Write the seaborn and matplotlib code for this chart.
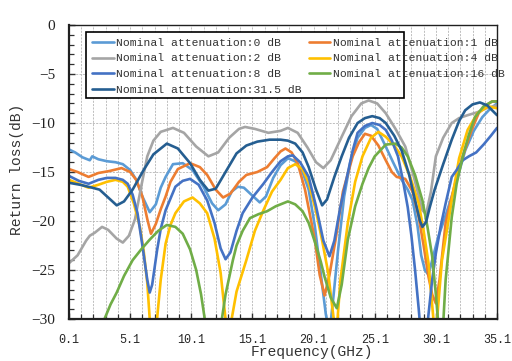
import matplotlib
matplotlib.use("Agg")
import matplotlib.pyplot as plt
import seaborn as sns
import pandas as pd
import numpy as np
from matplotlib.patches import Rectangle

# values (frequency in GHz, return loss in dB)
f_0db = [0.1, 0.6, 1.2, 1.8, 2.0, 2.5, 3.2, 3.9, 4.5, 5.1, 5.6, 6.1, 6.7, 7.2, 7.6, 8.0, 8.6, 9.4,
         10.2, 11.1, 11.8, 12.3, 12.9, 13.4, 13.9, 14.4, 15.0, 15.7, 16.2, 16.8, 17.4, 18.0, 18.6,
         19.2, 19.7, 20.2, 20.7, 21.1, 21.4, 21.7, 22.1, 22.6, 23.1, 23.7, 24.3, 24.8, 25.3, 26.0,
         26.6, 27.3, 27.8, 28.2, 28.6, 28.9, 29.2, 29.5, 29.8, 30.3, 30.8, 31.4, 32.0, 32.5, 33.2,
         33.9, 34.5, 35.1]
rl_0db = [-12.7, -13.0, -13.5, -13.8, -13.4, -13.7, -13.9, -14.0, -14.2, -14.8, -15.8, -17.5, -19.1,
          -18.3, -16.6, -15.5, -14.2, -14.1, -14.8, -16.5, -18.2, -18.9, -18.3, -17.0, -16.5, -16.6,
          -17.3, -18.1, -17.5, -15.6, -14.3, -13.6, -13.9, -15.0, -16.8, -20.5, -25.5, -29.5, -31.5,
          -28.0, -23.0, -17.5, -14.0, -11.5, -10.5, -10.2, -10.6, -12.4, -14.0, -15.8, -16.8, -17.9,
          -20.5, -23.5, -25.0, -25.5, -24.0, -21.6, -19.8, -17.5, -15.0, -12.8, -10.8, -9.4, -8.6, -8.0]

f_1db = [0.1, 0.8, 1.7, 2.5, 3.4, 4.4, 5.1, 5.6, 6.1, 6.5, 6.8, 7.2, 7.6, 8.0, 8.4, 9.0, 10.0, 10.8,
         11.4, 12.1, 12.7, 13.3, 14.0, 14.6, 15.5, 16.3, 16.9, 17.4, 17.8, 18.3, 18.8, 19.4, 20.2,
         20.6, 21.0, 21.4, 21.9, 22.5, 23.3, 23.8, 24.3, 24.8, 25.4, 26.0, 26.5, 26.9, 27.6, 28.2,
         28.7, 29.1, 29.5, 29.8, 30.1, 30.4, 30.9, 31.6, 32.3, 33.0, 33.6, 34.2, 34.7, 35.1]
rl_1db = [-14.7, -15.0, -15.5, -15.1, -14.9, -14.6, -15.0, -15.8, -17.5, -19.8, -21.3, -20.3, -18.8,
          -17.5, -16.0, -14.7, -14.1, -14.5, -15.3, -16.8, -17.6, -17.2, -16.0, -15.3, -15.0, -14.5,
          -13.6, -12.9, -12.6, -13.0, -14.1, -16.8, -21.9, -25.5, -27.6, -25.5, -21.9, -17.0, -13.4,
          -12.0, -11.1, -11.3, -12.3, -13.8, -15.0, -15.5, -15.7, -17.0, -19.6, -22.5, -25.7, -27.5,
          -28.4, -26.0, -20.2, -16.5, -13.4, -10.8, -9.0, -8.2, -7.8, -7.8]

f_2db = [0.1, 0.8, 1.5, 1.8, 2.2, 2.8, 3.3, 4.0, 4.5, 5.0, 5.5, 6.0, 6.5, 7.0, 7.6, 8.6, 9.5, 10.5,
         11.5, 12.3, 13.2, 14.0, 14.5, 15.3, 16.4, 17.4, 18.0, 18.8, 19.6, 20.3, 20.9, 21.5, 22.4,
         23.2, 24.0, 24.6, 25.3, 26.0, 26.8, 27.6, 28.3, 29.0, 29.3, 29.7, 30.1, 30.7, 31.4, 32.0,
         32.7, 33.5, 34.2, 35.1]
rl_2db = [-24.3, -23.5, -22.0, -21.5, -21.2, -20.6, -20.9, -21.8, -22.2, -21.5, -19.8, -16.5, -13.4,
          -11.8, -10.9, -10.5, -11.0, -12.4, -13.4, -13.0, -11.5, -10.6, -10.4, -10.6, -11.0, -10.8,
          -10.5, -11.0, -12.5, -14.0, -14.6, -13.8, -11.4, -9.3, -8.0, -7.7, -8.0, -9.0, -10.6, -12.4,
          -15.5, -18.9, -19.3, -17.0, -13.4, -11.5, -10.0, -9.5, -9.2, -8.9, -8.5, -8.2]

f_4db = [0.1, 0.9, 1.7, 2.5, 3.2, 3.9, 4.5, 4.9, 5.4, 5.9, 6.2, 6.5, 6.7, 6.85, 7.15, 7.3, 7.6, 8.0,
         8.4, 8.8, 9.5, 10.2, 10.8, 11.4, 12.0, 12.5, 12.9, 13.05, 13.25, 13.4, 13.8, 14.6, 15.3,
         16.0, 16.7, 17.4, 18.0, 18.6, 19.2, 19.7, 20.3, 20.8, 21.3, 21.6, 21.8, 22.0, 22.3, 22.9,
         23.5, 24.1, 24.8, 25.4, 26.0, 26.7, 27.3, 28.0, 28.7, 29.1, 29.5, 29.9, 30.05, 30.2, 30.6,
         31.4, 32.0, 32.7, 33.5, 34.4, 35.1]
rl_4db = [-15.8, -16.2, -16.6, -16.3, -16.0, -15.8, -16.0, -16.5, -18.2, -20.6, -23.0, -26.3, -30.0,
          -33.0, -33.0, -30.0, -26.0, -22.3, -20.4, -19.2, -18.0, -17.6, -18.2, -19.2, -21.8, -25.3,
          -30.0, -33.0, -33.0, -30.0, -27.2, -24.0, -21.0, -18.9, -17.0, -15.8, -14.6, -14.2, -14.7,
          -16.1, -19.0, -22.0, -25.3, -28.5, -30.5, -31.0, -26.0, -20.2, -16.0, -13.4, -11.5, -10.9,
          -11.4, -12.3, -13.4, -15.5, -18.2, -21.0, -24.3, -30.0, -32.0, -30.0, -24.0, -17.9, -13.6,
          -10.7, -9.0, -8.3, -8.5]

f_8db = [0.1, 0.9, 1.7, 2.5, 3.2, 3.9, 4.5, 4.9, 5.3, 5.7, 6.1, 6.5, 6.7, 6.9, 7.3, 7.6, 8.0, 8.8,
         9.4, 10.0, 10.7, 11.4, 12.0, 12.5, 12.9, 13.3, 13.8, 14.3, 15.1, 16.0, 16.7, 17.4, 18.0,
         18.4, 19.0, 19.7, 20.3, 20.9, 21.4, 21.8, 22.3, 22.9, 23.3, 23.7, 24.3, 24.9, 25.5, 26.0,
         26.5, 27.0, 27.4, 27.8, 28.1, 28.4, 28.7, 28.9, 29.3, 29.5, 29.8, 30.1, 30.5, 30.9, 31.4,
         31.8, 32.3, 32.8, 33.4, 34.0, 34.6, 35.1]
rl_8db = [-15.4, -15.9, -16.2, -15.8, -15.6, -15.6, -15.8, -16.2, -17.3, -19.2, -22.5, -26.0, -27.3,
          -26.5, -23.0, -20.8, -18.9, -16.5, -15.9, -15.7, -16.3, -17.9, -20.2, -22.8, -23.9, -23.2,
          -21.0, -19.2, -17.6, -16.2, -15.0, -13.9, -13.4, -13.3, -14.0, -15.5, -18.5, -22.0, -23.6,
          -22.0, -18.5, -15.1, -12.8, -11.0, -10.3, -10.0, -10.2, -10.7, -11.8, -13.4, -15.8, -18.6,
          -21.5, -25.0, -29.0, -32.0, -32.0, -29.5, -26.0, -23.3, -20.5, -18.2, -15.5, -14.8, -13.8,
          -13.4, -13.0, -12.2, -11.3, -10.5]

f_16db = [2.9, 3.0, 3.5, 4.0, 4.6, 5.3, 6.0, 6.7, 7.4, 8.1, 8.8, 9.4, 10.0, 10.5, 10.9, 11.2, 11.3,
          12.5, 12.6, 12.9, 13.5, 13.8, 14.3, 14.9, 15.6, 16.3, 17.0, 17.4, 18.0, 18.6, 19.2, 19.7,
          20.3, 20.7, 21.0, 21.5, 22.0, 22.4, 22.9, 23.5, 24.1, 24.6, 25.1, 26.0, 26.8, 27.3, 27.8,
          28.4, 29.0, 29.4, 29.8, 30.1, 30.3, 30.7, 30.9, 31.4, 31.8, 32.3, 32.8, 33.3, 34.0, 34.7,
          35.1]
rl_16db = [-31.0, -30.0, -28.5, -27.3, -25.6, -24.0, -22.9, -21.9, -21.0, -20.4, -20.6, -21.3, -22.9,
           -25.0, -27.5, -30.0, -31.5, -31.5, -30.0, -27.5, -24.0, -22.5, -21.0, -19.7, -19.3, -19.0,
           -18.5, -18.3, -18.0, -18.3, -19.0, -20.2, -22.5, -24.2, -25.7, -27.8, -28.9, -26.5, -21.9,
           -18.5, -16.2, -14.6, -13.4, -12.2, -12.1, -12.5, -13.4, -15.3, -17.9, -20.5, -23.6, -27.5,
           -30.5, -30.5, -26.0, -19.6, -16.2, -13.4, -11.2, -9.4, -8.3, -7.8, -7.8]

f_31db = [0.1, 1.0, 2.0, 2.6, 3.3, 4.0, 4.6, 5.3, 6.2, 7.0, 8.1, 9.0, 10.0, 10.8, 11.5, 12.1, 12.9,
          13.8, 14.6, 15.5, 16.5, 17.4, 18.0, 18.6, 19.2, 19.7, 20.3, 20.8, 21.2, 21.8, 22.4, 23.0,
          23.7, 24.3, 24.9, 25.5, 26.0, 26.7, 27.3, 27.9, 28.4, 28.8, 29.0, 29.3, 29.6, 30.0, 30.7,
          31.4, 32.0, 32.5, 33.1, 33.7, 34.3, 35.1]
rl_31db = [-16.1, -16.3, -16.6, -16.8, -17.6, -18.4, -18.0, -16.8, -14.8, -13.2, -12.1, -12.6, -14.1,
           -15.8, -16.9, -16.7, -15.0, -13.1, -12.3, -11.9, -11.7, -11.7, -11.8, -12.1, -13.0, -14.5,
           -16.8, -18.4, -17.8, -15.5, -13.4, -11.5, -10.0, -9.5, -9.3, -9.5, -10.0, -11.3, -12.8,
           -15.2, -17.9, -20.0, -20.6, -20.1, -18.6, -16.8, -14.2, -11.7, -9.8, -8.7, -8.1, -7.9,
           -8.2, -9.2]

labels = ["Nominal attenuation:0 dB", "Nominal attenuation:1 dB", "Nominal attenuation:2 dB",
          "Nominal attenuation:4 dB", "Nominal attenuation:8 dB", "Nominal attenuation:16 dB",
          "Nominal attenuation:31.5 dB"]
colors = ["#5B9BD5", "#ED7D31", "#A5A5A5", "#FFC000", "#4472C4", "#70AD47", "#255E91"]
series = [(f_0db, rl_0db), (f_1db, rl_1db), (f_2db, rl_2db), (f_4db, rl_4db),
          (f_8db, rl_8db), (f_16db, rl_16db), (f_31db, rl_31db)]

x_ticks = [0.1, 5.1, 10.1, 15.1, 20.1, 25.1, 30.1, 35.1]
y_ticks = [-30, -25, -20, -15, -10, -5, 0]

sns.set_style("ticks")
plt.rcParams['font.family'] = ['Liberation Mono', 'DejaVu Sans']

fig = plt.figure(figsize=(5.12, 3.61), dpi=100)
ax = fig.add_axes([0.1348, 0.1163, 0.8359, 0.8144])

for lab, col, (fx, ry) in zip(labels, colors, series):
    df = pd.DataFrame({"f": fx, "rl": ry})
    sns.lineplot(data=df, x="f", y="rl", color=col, linewidth=1.9, sort=False, ax=ax, label=lab)

ax.set_xlim(0.1, 35.1)
ax.set_ylim(-30, 0)
ax.set_xticks(x_ticks)
ax.set_xticklabels([f"{v:.1f}" for v in x_ticks], fontsize=8.5)
ax.set_xticks(np.arange(0.1, 35.11, 1.0), minor=True)
ax.set_yticks(y_ticks)
ax.set_yticklabels([str(v).replace("-", "\u2212") for v in y_ticks],
                   fontfamily="Liberation Serif", fontsize=11)
ax.set_yticks(np.arange(-30, 0.5, 1), minor=True)
ax.tick_params(which="both", direction="in", color="#303030")
ax.tick_params(which="major", length=4, width=1.0)
ax.tick_params(which="minor", length=3.5, width=0.9)
ax.tick_params(axis="x", which="major", pad=11)
ax.tick_params(axis="y", which="major", pad=10)
ax.tick_params(axis="y", which="both", labelcolor="#222222")

ax.grid(axis="x", which="both", color="#B4B4B4", linestyle=(0, (2.5, 1.5)), linewidth=0.6)
ax.grid(axis="y", which="major", color="#B4B4B4", linestyle=(0, (2.5, 1.5)), linewidth=0.6)
ax.set_axisbelow(True)

for side in ["left", "bottom"]:
    ax.spines[side].set_linewidth(1.6)
    ax.spines[side].set_color("#202020")
for side in ["top", "right"]:
    ax.spines[side].set_linewidth(1.0)
    ax.spines[side].set_color("#202020")

ax.set_xlabel("")
ax.set_ylabel("")
fig.text(312 / 512, 1 - 352 / 361, "Frequency(GHz)", ha="center", va="center",
         fontsize=10.5, color="#333333")
fig.text(17 / 512, 1 - 169 / 361, "Return loss(dB)", ha="center", va="center",
         rotation=90, fontsize=10.5, color="#333333")

# legend: column order 0,2,8,31.5 | 1,4,16
handles, labs = ax.get_legend_handles_labels()
order = [0, 2, 4, 6, 1, 3, 5]
ax.add_patch(Rectangle((0.0397, 0.752), 0.743, 0.224, transform=ax.transAxes,
                       facecolor="white", edgecolor="black", linewidth=1.2, zorder=4))
leg = ax.legend([handles[i] for i in order], [labs[i] for i in order], ncol=2,
                loc="upper left", bbox_to_anchor=(0.044, 0.972), frameon=False,
                fontsize=8.2, handlelength=1.9, handletextpad=0.2, columnspacing=0.6,
                labelspacing=0.5, borderaxespad=0, borderpad=0.4)
leg.set_zorder(5)
for t in leg.get_texts():
    t.set_color("#333333")

fig.savefig("out.png", dpi=100)
